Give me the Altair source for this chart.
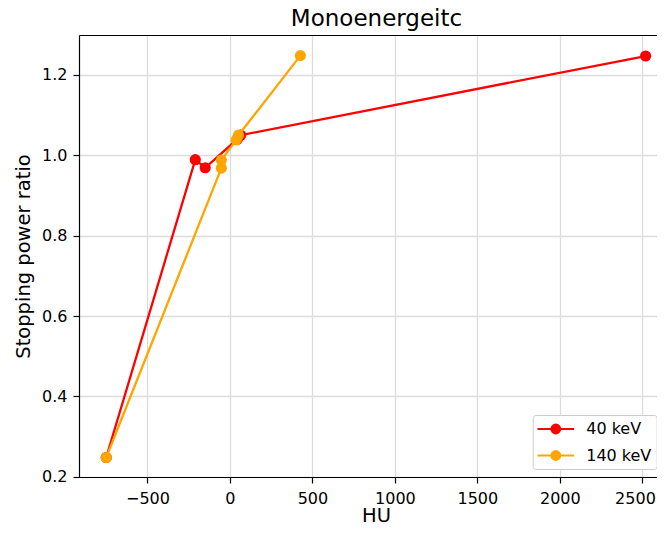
import altair as alt
import pandas as pd

series_names = ["40 keV", "140 keV"]
series_colors = ["#ff0000", "#ffa500"]

hu_40 = [-750, -210, -150, 45, 65, 2520]
spr_40 = [0.248, 0.989, 0.969, 1.040, 1.050, 1.247]

hu_140 = [-750, -52, -52, 38, 52, 427]
spr_140 = [0.248, 0.968, 0.988, 1.038, 1.050, 1.248]

x_ticks = [-500, 0, 500, 1000, 1500, 2000, 2500]
y_ticks = [0.2, 0.4, 0.6, 0.8, 1.0, 1.2]
x_domain = [-915, 2589]
y_domain = [0.1995, 1.2993]

rows = []
for name, xs, ys in [(series_names[0], hu_40, spr_40), (series_names[1], hu_140, spr_140)]:
    for i, (xv, yv) in enumerate(zip(xs, ys)):
        rows.append({"series": name, "HU": xv, "SPR": yv, "order": i})
df = pd.DataFrame(rows)

FONT = "DejaVu Sans"
legend_path = ("M-2.29,0H2.29"
               "M-0.54,0A0.54,0.54,0,1,1,0.54,0A0.54,0.54,0,1,1,-0.54,0Z")

legend_kw = dict(
    orient="none", legendX=453.7, legendY=380, title=None,
    labelFont=FONT, labelFontSize=16, labelColor="black",
    symbolType=legend_path, symbolSize=256, symbolStrokeWidth=2.2,
    padding=4.5, rowPadding=7.5, symbolOffset=9.1, labelOffset=20.9,
    fillColor="white", strokeColor="#cccccc", cornerRadius=3,
    symbolOpacity=1,
)

color_scale = alt.Scale(domain=series_names, range=series_colors)
stroke_enc = alt.Stroke("series:N", scale=color_scale, legend=alt.Legend(**legend_kw))
fill_enc = alt.Fill("series:N", scale=color_scale, legend=alt.Legend(**legend_kw))

last_x = "datum.value == %d" % x_ticks[-1]
top_y = "datum.value > %f" % (y_ticks[-1] + 0.05)

x = alt.X(
    "HU:Q",
    scale=alt.Scale(domain=x_domain, nice=False, zero=False),
    axis=alt.Axis(values=x_ticks, format="d", title="HU",
                  titleX=297, titleY=44, titleBaseline="alphabetic",
                  labelPadding=7,
                  labelAlign={"condition": {"test": last_x, "value": "right"}, "value": "center"},
                  labelOffset={"condition": {"test": last_x, "value": 13}, "value": 0}),
)
y = alt.Y(
    "SPR:Q",
    scale=alt.Scale(domain=y_domain, nice=False, zero=False),
    axis=alt.Axis(values=y_ticks + [y_domain[1]], format=".1f", title="Stopping power ratio",
                  titleX=-50, titleY=221, titleBaseline="alphabetic",
                  labelPadding=6,
                  gridColor={"condition": {"test": top_y, "value": "black"}, "value": "#dcdcdc"},
                  gridWidth={"condition": {"test": top_y, "value": 1.2}, "value": 1.3},
                  tickColor={"condition": {"test": top_y, "value": "transparent"}, "value": "black"},
                  labelColor={"condition": {"test": top_y, "value": "transparent"}, "value": "black"}),
)

layers = []
for name in series_names:
    base = alt.Chart(df).transform_filter(alt.datum.series == name)
    line = base.mark_line(strokeWidth=2.3, clip=True).encode(
        x=x, y=y, stroke=stroke_enc, order="order:Q")
    pts = base.mark_point(filled=True, size=125, opacity=1, strokeWidth=0).encode(
        x=x, y=y, fill=fill_enc)
    layers += [line, pts]

chart = alt.layer(*layers).properties(
    width=578, height=442,
    title=alt.Title("Monoenergeitc", font=FONT, fontSize=23, fontWeight="normal",
                    color="black", baseline="bottom", offset=-27, dx=8.5),
    autosize=alt.AutoSizeParams(type="none"),
    padding={"left": 71, "top": 27, "right": 0, "bottom": 49},
).configure_view(
    strokeOpacity=0
).configure_axis(
    grid=True, gridColor="#dcdcdc", gridWidth=1.3,
    domainColor="black", domainWidth=1.2,
    tickColor="black", tickWidth=1.2, tickSize=6,
    labelFont=FONT, labelFontSize=16,
    titleFont=FONT, titleFontSize=19.5, titleFontWeight="normal", titleColor="black",
)

chart.save("out.html", embed_options={"renderer": "svg", "actions": False})
